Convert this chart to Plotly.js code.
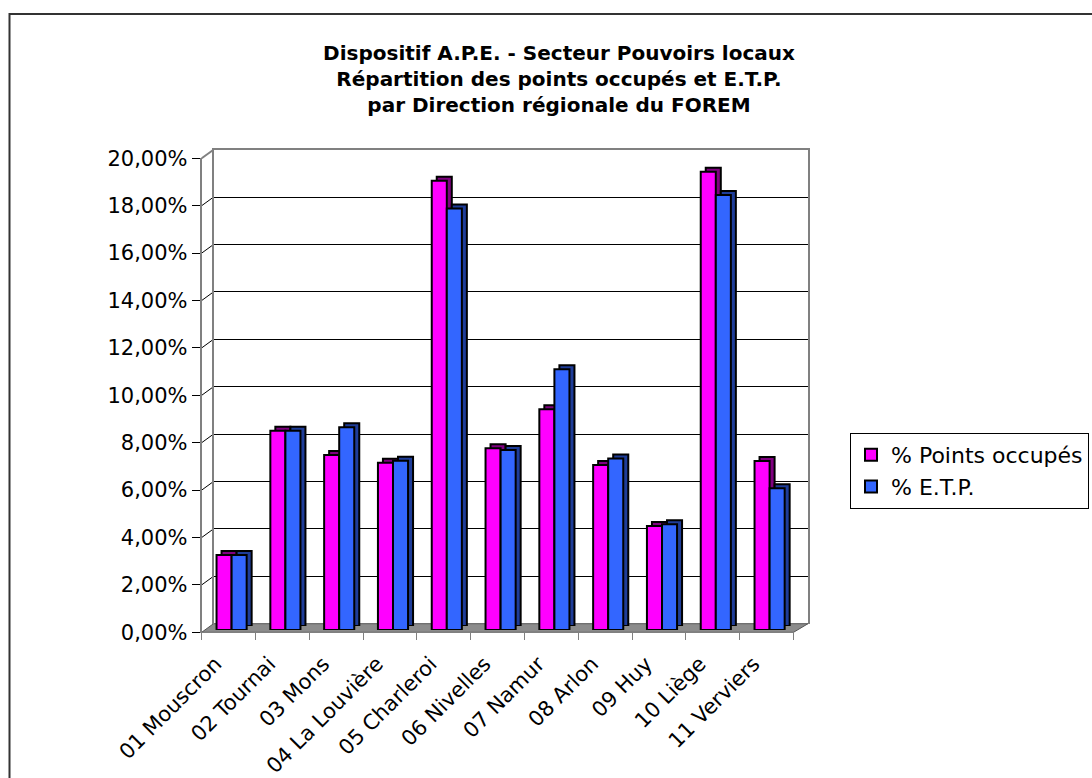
<!DOCTYPE html>
<html>
<head>
<meta charset="utf-8">
<script src="https://cdn.plot.ly/plotly-3.0.1.min.js"></script>
<style>html,body{margin:0;padding:0;background:#fff;}#chart{width:1092px;height:778px;}</style>
</head>
<body>
<div id="chart"></div>
<script>
const categories = ["01 Mouscron","02 Tournai","03 Mons","04 La Louvière","05 Charleroi","06 Nivelles","07 Namur","08 Arlon","09 Huy","10 Liège","11 Verviers"];
const pointsOccupes = [0.0316,0.0841,0.0738,0.0706,0.1896,0.0767,0.0931,0.0696,0.0439,0.1934,0.0713];
const etp = [0.0316,0.0841,0.0855,0.0714,0.1779,0.0759,0.1100,0.0724,0.0446,0.1835,0.0598];
const tickVals = [0,0.02,0.04,0.06,0.08,0.10,0.12,0.14,0.16,0.18,0.20];
const tickText = ["0,00%","2,00%","4,00%","6,00%","8,00%","10,00%","12,00%","14,00%","16,00%","18,00%","20,00%"];
const seriesNames = ["% Points occupés","% E.T.P."];
const titleLines = ["Dispositif A.P.E. - Secteur Pouvoirs locaux","Répartition des points occupés et E.T.P.","par Direction régionale du FOREM"];

const W = 1092, H = 778;
const fx = p => p / W;
const fy = p => 1 - p / H;
const FONT = "DejaVu Sans, Arial, sans-serif";

// geometry (pixels)
const back = {x0: 213.5, x1: 808, y0: 623.7, y1: 149.7};
const front = {x0: 201.7, x1: 793.5, y0: 632.3, y1: 158.3};
const bars = {x0: 204.7, x1: 796.5, y0: 630, y1: 156};
const sh = {dx: 5, dy: -4};

const pink = "#FF00FF", blue = "#3366FF";
const pinkSide = "#800080", blueSide = "#1F3D99";

const traces = [
  {type:"scatter", x:[0.5], y:[0], xaxis:"x", yaxis:"y", mode:"markers", marker:{opacity:0}, hoverinfo:"skip", showlegend:false},
  {type:"bar", name:seriesNames[0]+" side", x:categories, y:pointsOccupes, xaxis:"x2", yaxis:"y2", marker:{color:pinkSide, line:{color:"#000", width:2}}, showlegend:false, hoverinfo:"skip"},
  {type:"bar", name:seriesNames[1]+" side", x:categories, y:etp, xaxis:"x2", yaxis:"y2", marker:{color:blueSide, line:{color:"#000", width:2}}, showlegend:false, hoverinfo:"skip"},
  {type:"bar", name:seriesNames[0], x:categories, y:pointsOccupes, xaxis:"x3", yaxis:"y3", marker:{color:pink, line:{color:"#000", width:2}}},
  {type:"bar", name:seriesNames[1], x:categories, y:etp, xaxis:"x3", yaxis:"y3", marker:{color:blue, line:{color:"#000", width:2}}},
  {type:"scatter", x:categories, y:categories.map(()=>0), xaxis:"x4", yaxis:"y4", mode:"markers", marker:{opacity:0}, hoverinfo:"skip", showlegend:false}
];

const catRange = [-0.5, categories.length - 0.5];
const hidden = {visible:false};

const frontY = v => front.y0 - (front.y0 - front.y1) * v / 0.2;
const backY = v => back.y0 - (back.y0 - back.y1) * v / 0.2;
const shapes = [];
shapes.push({type:"rect", xref:"paper", yref:"paper", x0:fx(9.5), x1:fx(1100), y0:fy(14), y1:fy(800), line:{color:"#333", width:2}, fillcolor:"rgba(0,0,0,0)", layer:"below"});
shapes.push({type:"path", xref:"paper", yref:"paper",
  path:`M ${fx(front.x0)} ${fy(front.y0)} L ${fx(front.x1)} ${fy(front.y0)} L ${fx(back.x1)} ${fy(back.y0)} L ${fx(back.x0)} ${fy(back.y0)} Z`,
  fillcolor:"#8c8c8c", line:{color:"#555", width:1}, layer:"below"});
shapes.push({type:"line", xref:"paper", yref:"paper", x0:fx(front.x0), y0:fy(front.y1), x1:fx(back.x0), y1:fy(back.y1), line:{color:"#808080", width:2}, layer:"below"});
tickVals.forEach(v => {
  if (v > 0 && v < 0.2) {
    shapes.push({type:"line", xref:"paper", yref:"paper", x0:fx(front.x0), y0:fy(frontY(v)), x1:fx(back.x0), y1:fy(backY(v)), line:{color:"#000", width:1}, layer:"below"});
  }
});

const layout = {
  width: W, height: H,
  margin: {l:0, r:0, t:0, b:0, autoexpand:false},
  paper_bgcolor: "#fff", plot_bgcolor: "rgba(0,0,0,0)",
  font: {family: FONT, size: 21, color: "#000"},
  title: {text: titleLines.join("<br>"), x: fx(559), xanchor: "center", yref: "container", y: fy(60), yanchor: "middle", font: {family: FONT, size: 20, color: "#000", weight: "bold"}},
  barmode: "group", bargap: 0.44, bargroupgap: 0,
  showlegend: true,
  legend: {x: fx(850), y: fy(433), xanchor: "left", yanchor: "top", bordercolor: "#000", borderwidth: 1, bgcolor: "#fff", font: {family: FONT, size: 22}, tracegroupgap: 0, itemwidth: 30},
  xaxis: {domain:[fx(back.x0), fx(back.x1)], anchor:"y", range:[0,1], showgrid:false, zeroline:false, showticklabels:false, ticks:"", side:"top", showline:true, linecolor:"#808080", linewidth:2},
  yaxis: {domain:[fy(back.y0), fy(back.y1)], anchor:"x", range:[0,0.2], tickvals:tickVals, showgrid:true, gridcolor:"#000", gridwidth:1, zeroline:false, showticklabels:false, ticks:"", showline:true, mirror:true, linecolor:"#808080", linewidth:2},
  xaxis2: Object.assign({domain:[fx(bars.x0+sh.dx), fx(bars.x1+sh.dx)], anchor:"y2", range:catRange, type:"category"}, hidden),
  yaxis2: Object.assign({domain:[fy(bars.y0+sh.dy), fy(bars.y1+sh.dy)], anchor:"x2", range:[0,0.2]}, hidden),
  xaxis3: Object.assign({domain:[fx(bars.x0), fx(bars.x1)], anchor:"y3", range:catRange, type:"category"}, hidden),
  yaxis3: Object.assign({domain:[fy(bars.y0), fy(bars.y1)], anchor:"x3", range:[0,0.2]}, hidden),
  xaxis4: {domain:[fx(front.x0), fx(front.x1)], anchor:"y4", range:catRange, type:"category", categoryarray:categories, tickson:"boundaries", ticks:"outside", ticklen:7, tickcolor:"#808080", tickwidth:1, showline:true, linecolor:"#808080", linewidth:1, showgrid:false, zeroline:false, tickangle:-45, ticklabelshift:-13, ticklabelstandoff:10, tickfont:{family:FONT, size:21}},
  yaxis4: {domain:[fy(front.y0), fy(front.y1)], anchor:"x4", range:[0,0.2], tickvals:tickVals, ticktext:tickText, ticks:"outside", ticklen:8, tickcolor:"#000", tickwidth:1, showline:true, linecolor:"#808080", linewidth:2, showgrid:false, zeroline:false, tickfont:{family:FONT, size:21}},
  shapes: shapes
};

Plotly.newPlot("chart", traces, layout, {displayModeBar:false, staticPlot:true});
</script>
</body>
</html>
